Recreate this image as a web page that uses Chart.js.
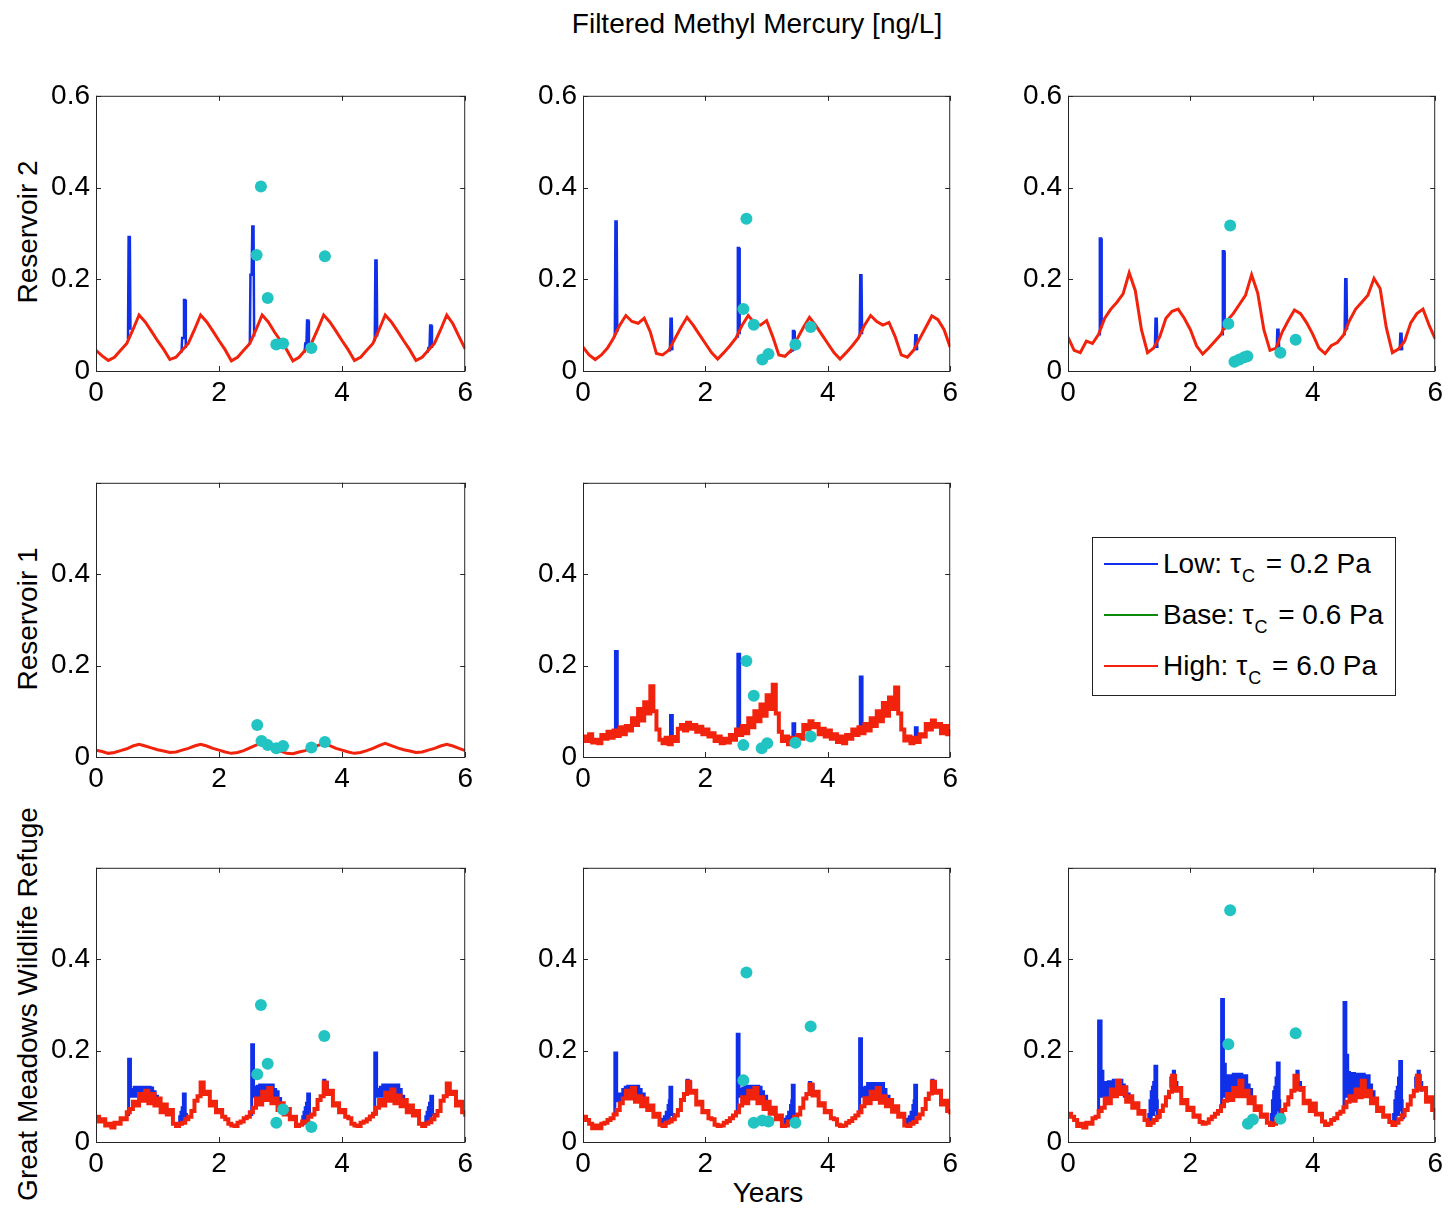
<!DOCTYPE html>
<html>
<head>
<meta charset="utf-8">
<script src="https://cdn.jsdelivr.net/npm/chart.js@4.4.1/dist/chart.umd.min.js"></script>
<style>
  body { margin: 0; background: #fff; font-family: "Liberation Sans", Arial, sans-serif; }
  #page { position: relative; width: 1450px; height: 1209px; overflow: hidden; }
  canvas { position: absolute; }
  .txt { position: absolute; font-size: 28px; color: #000; white-space: nowrap; }
  .rowlab { position: absolute; width: 500px; height: 34px; line-height: 34px; text-align: center;
            font-size: 28px; white-space: nowrap; transform: rotate(-90deg); transform-origin: 50% 50%; }
  #legend { position: absolute; left: 1092px; top: 537px; width: 302px; height: 157px; border: 1px solid #222; background: #fff; }
  .item { position: absolute; left: 0; height: 34px; line-height: 34px; font-size: 28px; white-space: nowrap; }
  .swatch { position: absolute; left: 11px; top: 16px; width: 54px; height: 2px; }
  .label { position: absolute; left: 70px; top: 0; }
  .label sub { font-size: 18px; vertical-align: -9px; line-height: 0; margin-left: 1px; margin-right: 3px; }
</style>
</head>
<body>
<div id="page">
  <div class="txt" id="title" style="left:0;width:1514px;top:8px;text-align:center;">Filtered Methyl Mercury [ng/L]</div>
  <div class="txt" style="left:668px;width:200px;top:1177px;text-align:center;">Years</div>
  <div id="legend"></div>
</div>
<script>
// time grids (years)
const years10 = [0,0.1,0.2,0.3,0.4,0.5,0.6,0.7,0.8,0.9,1,1.1,1.2,1.3,1.4,1.5,1.6,1.7,1.8,1.9,2,2.1,2.2,2.3,2.4,2.5,2.6,2.7,2.8,2.9,3,3.1,3.2,3.3,3.4,3.5,3.6,3.7,3.8,3.9,4,4.1,4.2,4.3,4.4,4.5,4.6,4.7,4.8,4.9,5,5.1,5.2,5.3,5.4,5.5,5.6,5.7,5.8,5.9,6];
const years05 = [0,0.05,0.1,0.15,0.2,0.25,0.3,0.35,0.4,0.45,0.5,0.55,0.6,0.65,0.7,0.75,0.8,0.85,0.9,0.95,1,1.05,1.1,1.15,1.2,1.25,1.3,1.35,1.4,1.45,1.5,1.55,1.6,1.65,1.7,1.75,1.8,1.85,1.9,1.95,2,2.05,2.1,2.15,2.2,2.25,2.3,2.35,2.4,2.45,2.5,2.55,2.6,2.65,2.7,2.75,2.8,2.85,2.9,2.95,3,3.05,3.1,3.15,3.2,3.25,3.3,3.35,3.4,3.45,3.5,3.55,3.6,3.65,3.7,3.75,3.8,3.85,3.9,3.95,4,4.05,4.1,4.15,4.2,4.25,4.3,4.35,4.4,4.45,4.5,4.55,4.6,4.65,4.7,4.75,4.8,4.85,4.9,4.95,5,5.05,5.1,5.15,5.2,5.25,5.3,5.35,5.4,5.45,5.5,5.55,5.6,5.65,5.7,5.75,5.8,5.85,5.9,5.95,6];

const xTicks = [0, 2, 4, 6];
const yTicks = [0, 0.2, 0.4, 0.6];
const rowNames = ['Reservoir 2', 'Reservoir 1', 'Great Meadows Wildlife Refuge'];
const seriesNames = ['Low', 'Base', 'High'];
const seriesTau = ['0.2', '0.6', '6.0'];

// ---- Reservoir 2 ----
const highR2a = [0.045,0.033,0.023,0.030,0.045,0.060,0.090,0.122,0.107,0.087,
  0.066,0.047,0.025,0.030,0.045,0.060,0.090,0.122,0.107,0.087,
  0.066,0.046,0.022,0.030,0.045,0.060,0.090,0.122,0.107,0.085,
  0.066,0.046,0.022,0.030,0.045,0.060,0.090,0.122,0.107,0.087,
  0.066,0.046,0.023,0.030,0.045,0.060,0.090,0.122,0.107,0.087,
  0.066,0.046,0.023,0.030,0.045,0.060,0.090,0.122,0.103,0.075,0.048];
const lowR2a = [
  [[0.52,0.07],[0.53,0.292],[0.55,0.292],[0.56,0.09]],
  [[1.39,0.04],[1.40,0.072],[1.42,0.072],[1.43,0.155],[1.45,0.155],[1.46,0.05]],
  [[2.50,0.06],[2.51,0.21],[2.53,0.21],[2.54,0.315],[2.56,0.315],[2.57,0.075]],
  [[3.39,0.04],[3.40,0.06],[3.42,0.06],[3.43,0.11],[3.45,0.11],[3.46,0.05]],
  [[4.53,0.065],[4.54,0.241],[4.56,0.241],[4.57,0.075]],
  [[5.39,0.04],[5.40,0.05],[5.42,0.05],[5.43,0.099],[5.45,0.099],[5.46,0.05]]
];
const obsR2a = [[2.61,0.253],[2.68,0.402],[2.79,0.159],[2.93,0.058],[3.04,0.060],[3.50,0.050],[3.72,0.250]];

const highR2b = [0.052,0.035,0.025,0.035,0.050,0.072,0.100,0.121,0.108,0.104,
  0.115,0.085,0.038,0.035,0.045,0.070,0.095,0.117,0.100,0.080,
  0.060,0.040,0.026,0.040,0.055,0.072,0.100,0.121,0.105,0.100,
  0.110,0.075,0.035,0.032,0.045,0.070,0.095,0.117,0.100,0.080,
  0.060,0.040,0.026,0.040,0.055,0.072,0.100,0.121,0.108,0.100,
  0.106,0.075,0.035,0.030,0.045,0.070,0.095,0.120,0.112,0.090,0.052];
const lowR2b = [
  [[0.52,0.075],[0.53,0.326],[0.55,0.326],[0.56,0.085]],
  [[1.38,0.045],[1.42,0.045],[1.43,0.114],[1.45,0.114],[1.46,0.045]],
  [[2.52,0.075],[2.53,0.268],[2.55,0.268],[2.56,0.08]],
  [[3.38,0.04],[3.42,0.045],[3.43,0.087],[3.45,0.087],[3.46,0.045]],
  [[4.52,0.075],[4.53,0.209],[4.55,0.209],[4.56,0.08]],
  [[5.42,0.045],[5.43,0.078],[5.45,0.078],[5.46,0.045]]
];
const obsR2b = [[2.62,0.135],[2.67,0.332],[2.79,0.101],[2.93,0.025],[3.03,0.037],[3.47,0.058],[3.72,0.096]];

const highR2c = [0.074,0.045,0.040,0.065,0.060,0.080,0.115,0.135,0.150,0.168,
  0.214,0.175,0.090,0.040,0.050,0.075,0.115,0.130,0.135,0.115,
  0.090,0.055,0.037,0.050,0.065,0.080,0.110,0.125,0.145,0.165,
  0.210,0.170,0.090,0.045,0.050,0.085,0.110,0.133,0.125,0.105,
  0.080,0.050,0.038,0.055,0.062,0.078,0.110,0.135,0.150,0.165,
  0.202,0.180,0.095,0.040,0.048,0.065,0.105,0.125,0.135,0.100,0.070];
const lowR2c = [
  [[0.51,0.08],[0.52,0.289],[0.54,0.289],[0.55,0.095]],
  [[1.42,0.05],[1.43,0.114],[1.45,0.114],[1.46,0.05]],
  [[2.52,0.08],[2.53,0.261],[2.55,0.261],[2.56,0.09]],
  [[3.41,0.045],[3.42,0.09],[3.44,0.09],[3.45,0.05]],
  [[4.52,0.078],[4.53,0.2],[4.55,0.2],[4.56,0.09]],
  [[5.42,0.045],[5.43,0.081],[5.45,0.081],[5.46,0.045]]
];
const obsR2c = [[2.62,0.103],[2.65,0.317],[2.72,0.020],[2.80,0.025],[2.88,0.030],[2.93,0.032],[3.47,0.040],[3.72,0.068]];

// ---- Reservoir 1 ----
const highR1a = [0.015,0.012,0.008,0.010,0.014,0.018,0.024,0.028,0.024,0.020,
  0.016,0.013,0.010,0.011,0.015,0.019,0.024,0.028,0.024,0.019,
  0.015,0.011,0.008,0.010,0.014,0.020,0.026,0.030,0.025,0.018,
  0.013,0.008,0.007,0.011,0.014,0.020,0.025,0.030,0.025,0.019,
  0.015,0.011,0.008,0.010,0.014,0.019,0.025,0.030,0.025,0.020,
  0.016,0.013,0.010,0.011,0.015,0.019,0.024,0.028,0.024,0.019,0.014];
const obsR1a = [[2.62,0.070],[2.69,0.035],[2.79,0.026],[2.93,0.019],[3.04,0.024],[3.50,0.021],[3.72,0.033]];

const highR1b = [0.045,0.035,0.050,0.032,0.038,0.030,0.048,0.040,0.055,0.042,
  0.058,0.046,0.065,0.050,0.068,0.058,0.085,0.070,0.105,0.080,
  0.120,0.095,0.155,0.100,0.060,0.038,0.030,0.042,0.028,0.044,
  0.035,0.062,0.070,0.058,0.075,0.062,0.070,0.055,0.066,0.050,
  0.060,0.045,0.052,0.035,0.045,0.030,0.040,0.032,0.048,0.038,
  0.060,0.048,0.068,0.052,0.085,0.065,0.100,0.078,0.115,0.090,
  0.135,0.105,0.158,0.095,0.055,0.035,0.045,0.028,0.042,0.032,
  0.048,0.040,0.070,0.060,0.078,0.065,0.072,0.050,0.062,0.045,
  0.058,0.040,0.050,0.033,0.045,0.030,0.048,0.040,0.060,0.048,
  0.065,0.052,0.072,0.058,0.085,0.068,0.100,0.078,0.118,0.090,
  0.130,0.105,0.152,0.095,0.060,0.036,0.045,0.030,0.042,0.033,
  0.050,0.045,0.072,0.060,0.080,0.066,0.072,0.052,0.068,0.050,0.060];
const lowR1b = [
  [[0.52,0.06],[0.53,0.231],[0.55,0.231],[0.56,0.06]],
  [[1.42,0.035],[1.43,0.091],[1.45,0.091],[1.46,0.035]],
  [[2.52,0.06],[2.53,0.225],[2.55,0.225],[2.56,0.06]],
  [[3.42,0.035],[3.43,0.073],[3.45,0.073],[3.46,0.035]],
  [[4.52,0.06],[4.53,0.175],[4.55,0.175],[4.56,0.06]],
  [[5.42,0.035],[5.43,0.064],[5.45,0.064],[5.46,0.035]]
];
const obsR1b = [[2.62,0.026],[2.67,0.210],[2.79,0.134],[2.92,0.019],[3.01,0.030],[3.47,0.031],[3.72,0.045]];

// ---- Great Meadows Wildlife Refuge ----
const highGMa = [0.055,0.045,0.050,0.036,0.040,0.032,0.042,0.040,0.052,0.050,
  0.065,0.072,0.088,0.080,0.105,0.090,0.112,0.085,0.105,0.080,
  0.095,0.065,0.082,0.060,0.070,0.040,0.035,0.040,0.042,0.050,
  0.055,0.068,0.090,0.100,0.130,0.105,0.110,0.080,0.088,0.065,
  0.070,0.055,0.050,0.040,0.036,0.035,0.042,0.045,0.052,0.055,
  0.065,0.075,0.095,0.082,0.110,0.092,0.118,0.085,0.095,0.070,
  0.085,0.060,0.072,0.050,0.055,0.035,0.038,0.045,0.042,0.055,
  0.060,0.072,0.092,0.100,0.130,0.105,0.112,0.080,0.085,0.065,
  0.070,0.055,0.052,0.040,0.036,0.035,0.042,0.045,0.050,0.056,
  0.062,0.075,0.092,0.080,0.108,0.090,0.115,0.085,0.102,0.078,
  0.092,0.065,0.080,0.058,0.068,0.040,0.035,0.040,0.043,0.050,
  0.058,0.068,0.090,0.100,0.128,0.105,0.110,0.080,0.088,0.065,0.055];
const lowGMa = [
  [[0.52,0.06],[0.53,0.181],[0.55,0.181],[0.56,0.10],[0.58,0.115],[0.60,0.10],[0.62,0.12],[0.64,0.10],[0.66,0.12],[0.68,0.10],[0.70,0.12],[0.72,0.10],[0.74,0.12],[0.76,0.105],[0.78,0.12],[0.80,0.105],[0.82,0.12],[0.84,0.10],[0.86,0.12],[0.88,0.10],[0.90,0.118],[0.92,0.095],[0.94,0.11],[0.96,0.09],[0.98,0.10],[1.00,0.085]],
  [[1.34,0.04],[1.36,0.055],[1.37,0.04],[1.38,0.065],[1.39,0.045],[1.40,0.075],[1.41,0.05],[1.42,0.105],[1.44,0.105],[1.45,0.06],[1.47,0.05]],
  [[2.51,0.06],[2.53,0.213],[2.55,0.213],[2.56,0.10],[2.58,0.12],[2.60,0.10],[2.62,0.122],[2.64,0.10],[2.66,0.125],[2.68,0.10],[2.70,0.125],[2.72,0.10],[2.74,0.125],[2.76,0.105],[2.78,0.125],[2.80,0.10],[2.82,0.125],[2.84,0.095],[2.86,0.125],[2.88,0.095],[2.90,0.115],[2.92,0.09],[2.94,0.11],[2.96,0.085],[2.98,0.095],[3.00,0.08]],
  [[3.34,0.04],[3.36,0.055],[3.37,0.04],[3.38,0.065],[3.39,0.045],[3.40,0.075],[3.41,0.05],[3.42,0.085],[3.43,0.05],[3.44,0.105],[3.46,0.105],[3.47,0.06],[3.50,0.055]],
  [[3.68,0.115],[3.70,0.135],[3.72,0.12],[3.74,0.13],[3.76,0.11]],
  [[4.52,0.06],[4.53,0.195],[4.55,0.195],[4.56,0.10],[4.58,0.115],[4.60,0.10],[4.62,0.12],[4.64,0.10],[4.66,0.125],[4.68,0.10],[4.70,0.125],[4.72,0.105],[4.74,0.125],[4.76,0.105],[4.78,0.125],[4.80,0.105],[4.82,0.125],[4.84,0.10],[4.86,0.125],[4.88,0.10],[4.90,0.125],[4.92,0.095],[4.94,0.115],[4.96,0.09],[4.98,0.10],[5.00,0.085]],
  [[5.34,0.04],[5.36,0.055],[5.37,0.04],[5.38,0.065],[5.39,0.045],[5.40,0.075],[5.41,0.05],[5.42,0.085],[5.43,0.05],[5.44,0.10],[5.46,0.10],[5.47,0.06],[5.50,0.055]]
];
const obsGMa = [[2.62,0.148],[2.68,0.300],[2.79,0.171],[2.93,0.042],[3.04,0.071],[3.50,0.033],[3.71,0.232]];

const highGMb = [0.055,0.048,0.040,0.030,0.036,0.030,0.040,0.042,0.048,0.052,
  0.060,0.070,0.085,0.095,0.112,0.095,0.118,0.088,0.100,0.078,
  0.095,0.070,0.080,0.055,0.062,0.038,0.035,0.042,0.045,0.050,
  0.058,0.070,0.092,0.105,0.132,0.108,0.112,0.082,0.088,0.065,
  0.068,0.052,0.050,0.038,0.035,0.036,0.042,0.046,0.052,0.058,
  0.065,0.080,0.098,0.085,0.112,0.095,0.118,0.085,0.098,0.072,
  0.088,0.062,0.075,0.050,0.058,0.035,0.036,0.045,0.042,0.055,
  0.060,0.075,0.095,0.105,0.126,0.102,0.110,0.080,0.085,0.065,
  0.068,0.052,0.050,0.038,0.035,0.036,0.042,0.046,0.052,0.058,
  0.065,0.078,0.096,0.085,0.110,0.094,0.118,0.086,0.100,0.078,
  0.092,0.066,0.078,0.055,0.062,0.036,0.035,0.040,0.044,0.052,
  0.060,0.072,0.094,0.106,0.132,0.108,0.112,0.082,0.090,0.068,0.060];
const lowGMb = [
  [[0.51,0.06],[0.52,0.195],[0.54,0.195],[0.55,0.09],[0.57,0.105],[0.59,0.09],[0.61,0.105],[0.63,0.095],[0.65,0.115],[0.67,0.095],[0.69,0.12],[0.71,0.10],[0.73,0.122],[0.75,0.10],[0.77,0.122],[0.79,0.10],[0.81,0.122],[0.83,0.10],[0.85,0.122],[0.87,0.10],[0.89,0.122],[0.91,0.095],[0.93,0.115],[0.95,0.09],[0.97,0.105],[1.00,0.085]],
  [[1.28,0.04],[1.30,0.05],[1.31,0.04],[1.33,0.055],[1.34,0.04],[1.36,0.065],[1.37,0.045],[1.39,0.08],[1.40,0.05],[1.41,0.09],[1.42,0.12],[1.44,0.12],[1.45,0.06],[1.48,0.05]],
  [[1.68,0.115],[1.70,0.135],[1.72,0.12],[1.74,0.13],[1.76,0.11]],
  [[2.51,0.065],[2.52,0.236],[2.54,0.236],[2.55,0.10],[2.57,0.115],[2.59,0.10],[2.61,0.118],[2.63,0.10],[2.65,0.122],[2.67,0.10],[2.69,0.122],[2.71,0.10],[2.73,0.122],[2.75,0.10],[2.77,0.122],[2.79,0.10],[2.81,0.122],[2.83,0.095],[2.85,0.122],[2.87,0.095],[2.89,0.12],[2.91,0.09],[2.93,0.11],[2.95,0.085],[2.97,0.10],[3.00,0.08]],
  [[3.28,0.04],[3.30,0.05],[3.31,0.04],[3.33,0.055],[3.34,0.04],[3.36,0.065],[3.37,0.045],[3.39,0.08],[3.40,0.05],[3.41,0.09],[3.42,0.124],[3.44,0.124],[3.45,0.06],[3.48,0.05]],
  [[3.68,0.115],[3.70,0.13],[3.72,0.115],[3.74,0.125],[3.76,0.105]],
  [[4.51,0.065],[4.52,0.226],[4.54,0.226],[4.55,0.10],[4.57,0.118],[4.59,0.10],[4.61,0.12],[4.63,0.10],[4.65,0.128],[4.67,0.10],[4.69,0.128],[4.71,0.105],[4.73,0.128],[4.75,0.105],[4.77,0.128],[4.79,0.105],[4.81,0.128],[4.83,0.10],[4.85,0.128],[4.87,0.10],[4.89,0.128],[4.91,0.095],[4.93,0.115],[4.95,0.09],[4.97,0.10],[5.00,0.085]],
  [[5.28,0.04],[5.30,0.05],[5.31,0.04],[5.33,0.055],[5.34,0.04],[5.36,0.065],[5.37,0.045],[5.39,0.08],[5.40,0.05],[5.41,0.09],[5.42,0.124],[5.44,0.124],[5.45,0.06],[5.48,0.05]],
  [[5.68,0.115],[5.70,0.135],[5.72,0.12],[5.74,0.13],[5.76,0.11]]
];
const obsGMb = [[2.62,0.135],[2.67,0.371],[2.79,0.042],[2.93,0.047],[3.03,0.045],[3.47,0.042],[3.72,0.253]];

const highGMc = [0.062,0.055,0.048,0.035,0.040,0.032,0.042,0.040,0.052,0.055,
  0.068,0.075,0.095,0.085,0.115,0.100,0.134,0.105,0.120,0.088,
  0.100,0.075,0.085,0.062,0.068,0.048,0.037,0.042,0.048,0.055,
  0.068,0.080,0.098,0.110,0.145,0.112,0.118,0.085,0.092,0.070,
  0.075,0.055,0.058,0.044,0.040,0.042,0.050,0.055,0.062,0.068,
  0.078,0.090,0.105,0.092,0.118,0.100,0.134,0.100,0.112,0.085,
  0.098,0.070,0.078,0.055,0.060,0.042,0.037,0.040,0.050,0.056,
  0.070,0.082,0.098,0.112,0.145,0.115,0.118,0.085,0.090,0.068,
  0.084,0.060,0.062,0.045,0.037,0.040,0.048,0.052,0.062,0.066,
  0.076,0.088,0.100,0.090,0.115,0.098,0.134,0.100,0.112,0.085,
  0.095,0.068,0.075,0.055,0.058,0.044,0.037,0.042,0.050,0.058,
  0.070,0.082,0.100,0.112,0.145,0.115,0.118,0.088,0.098,0.070,0.048];
const lowGMc = [
  [[0.49,0.07],[0.50,0.265],[0.53,0.265],[0.54,0.10],[0.55,0.155],[0.57,0.10],[0.58,0.13],[0.60,0.10],[0.62,0.13],[0.64,0.10],[0.66,0.132],[0.68,0.105],[0.70,0.132],[0.72,0.11],[0.74,0.135],[0.76,0.11],[0.78,0.135],[0.80,0.115],[0.82,0.135],[0.84,0.11],[0.86,0.135],[0.88,0.105],[0.90,0.125],[0.92,0.10],[0.94,0.12],[0.96,0.095],[0.98,0.105],[1.00,0.09]],
  [[1.30,0.04],[1.32,0.06],[1.33,0.045],[1.34,0.09],[1.35,0.05],[1.36,0.11],[1.37,0.06],[1.38,0.12],[1.39,0.06],[1.40,0.13],[1.41,0.07],[1.42,0.166],[1.44,0.166],[1.45,0.09],[1.46,0.06],[1.48,0.05]],
  [[1.66,0.12],[1.68,0.14],[1.70,0.12],[1.72,0.155],[1.74,0.12],[1.76,0.13],[1.78,0.11]],
  [[2.50,0.08],[2.51,0.312],[2.53,0.312],[2.54,0.10],[2.55,0.17],[2.57,0.10],[2.58,0.145],[2.60,0.10],[2.62,0.145],[2.64,0.105],[2.66,0.145],[2.68,0.11],[2.70,0.148],[2.72,0.11],[2.74,0.148],[2.76,0.115],[2.78,0.148],[2.80,0.12],[2.82,0.148],[2.84,0.11],[2.86,0.145],[2.88,0.105],[2.90,0.145],[2.92,0.10],[2.94,0.125],[2.96,0.095],[2.98,0.115],[3.00,0.09],[3.02,0.10]],
  [[3.30,0.04],[3.32,0.06],[3.33,0.045],[3.34,0.09],[3.35,0.05],[3.36,0.11],[3.37,0.06],[3.38,0.12],[3.39,0.06],[3.40,0.14],[3.41,0.07],[3.42,0.173],[3.44,0.173],[3.45,0.09],[3.46,0.06],[3.48,0.05]],
  [[3.68,0.12],[3.70,0.14],[3.72,0.12],[3.74,0.155],[3.76,0.12],[3.78,0.13],[3.80,0.11]],
  [[4.50,0.08],[4.51,0.305],[4.53,0.305],[4.54,0.10],[4.55,0.19],[4.57,0.10],[4.58,0.152],[4.60,0.10],[4.62,0.15],[4.64,0.105],[4.66,0.15],[4.68,0.11],[4.70,0.148],[4.72,0.11],[4.74,0.148],[4.76,0.115],[4.78,0.148],[4.80,0.12],[4.82,0.148],[4.84,0.11],[4.86,0.145],[4.88,0.105],[4.90,0.145],[4.92,0.10],[4.94,0.125],[4.96,0.095],[4.98,0.11],[5.00,0.09]],
  [[5.30,0.04],[5.32,0.06],[5.33,0.045],[5.34,0.09],[5.35,0.05],[5.36,0.11],[5.37,0.06],[5.38,0.12],[5.39,0.06],[5.40,0.14],[5.41,0.07],[5.42,0.176],[5.44,0.176],[5.45,0.09],[5.46,0.06],[5.48,0.05]],
  [[5.66,0.12],[5.68,0.14],[5.70,0.12],[5.72,0.155],[5.74,0.12],[5.76,0.13],[5.78,0.11]]
];
const obsGMc = [[2.62,0.214],[2.65,0.507],[2.94,0.040],[3.02,0.049],[3.47,0.051],[3.72,0.238]];

const BLUE = '#0f2fe8', GREEN = '#0a8a0a', RED = '#f2230c', CYAN = '#22c3c3', AXIS = '#262626';

// layout of the panel grid (pixels)
const colLeft = [96, 583, 1068], colWidth = [370, 368, 368];
const rowTop = [93, 480, 865], rowHeight = [278, 277, 277];

const panels = [
  { row: 0, col: 0, t: years10, high: highR2a, low: lowR2a, obs: obsR2a, noisy: false },
  { row: 0, col: 1, t: years10, high: highR2b, low: lowR2b, obs: obsR2b, noisy: false },
  { row: 0, col: 2, t: years10, high: highR2c, low: lowR2c, obs: obsR2c, noisy: false },
  { row: 1, col: 0, t: years10, high: highR1a, low: [], obs: obsR1a, noisy: false },
  { row: 1, col: 1, t: years05, high: highR1b, low: lowR1b, obs: obsR1b, noisy: true },
  { row: 2, col: 0, t: years05, high: highGMa, low: lowGMa, obs: obsGMa, noisy: true },
  { row: 2, col: 1, t: years05, high: highGMb, low: lowGMb, obs: obsGMb, noisy: true },
  { row: 2, col: 2, t: years05, high: highGMc, low: lowGMc, obs: obsGMc, noisy: true }
];

// box around the axes with inward ticks on all four sides
const boxTicks = {
  id: 'boxTicks',
  afterDraw(chart) {
    const { ctx, chartArea: a, scales: { x, y } } = chart;
    ctx.save();
    ctx.strokeStyle = AXIS;
    ctx.lineWidth = 1;
    ctx.strokeRect(a.left + 0.5, a.top + 0.5, a.right - a.left - 1, a.bottom - a.top);
    ctx.beginPath();
    xTicks.forEach(v => {
      const px = Math.round(x.getPixelForValue(v)) + 0.5;
      ctx.moveTo(px, a.bottom); ctx.lineTo(px, a.bottom - 5);
      ctx.moveTo(px, a.top); ctx.lineTo(px, a.top + 5);
    });
    yTicks.forEach(v => {
      const py = Math.round(y.getPixelForValue(v)) + 0.5;
      ctx.moveTo(a.left, py); ctx.lineTo(a.left + 5, py);
      ctx.moveTo(a.right, py); ctx.lineTo(a.right - 5, py);
    });
    ctx.stroke();
    ctx.restore();
  }
};

Chart.defaults.font.family = '"Liberation Sans", Arial, sans-serif';
Chart.defaults.font.size = 28;
Chart.defaults.color = '#000';

const page = document.getElementById('page');

// row labels, rotated, centred on each row of panels
rowNames.forEach((name, r) => {
  const d = document.createElement('div');
  d.className = 'rowlab';
  d.textContent = name;
  d.style.left = (28 - 250) + 'px';
  d.style.top = (rowTop[r] + rowHeight[r] / 2 - 17) + 'px';
  page.appendChild(d);
});

panels.forEach(p => {
  const yw = p.col === 0 ? 96 : 80;
  const padTop = 20, xh = 50, padRight = 12;
  const canvas = document.createElement('canvas');
  const w = yw + colWidth[p.col] + padRight;
  const h = padTop + rowHeight[p.row] + xh;
  canvas.width = w; canvas.height = h;
  canvas.style.left = (colLeft[p.col] - yw) + 'px';
  canvas.style.top = (rowTop[p.row] - padTop) + 'px';
  canvas.style.width = w + 'px'; canvas.style.height = h + 'px';
  page.appendChild(canvas);

  const lowData = [];
  p.low.forEach(seg => {
    seg.forEach(pt => lowData.push({ x: pt[0], y: pt[1] }));
    lowData.push({ x: seg[seg.length - 1][0], y: null });
  });

  new Chart(canvas.getContext('2d'), {
    type: 'line',
    data: {
      datasets: [
        { label: 'Observed', data: p.obs.map(o => ({ x: o[0], y: o[1] })), showLine: false,
          pointRadius: 6, pointBackgroundColor: CYAN, pointBorderWidth: 0, pointStyle: 'circle' },
        { label: seriesNames[2], data: p.high.map((v, i) => ({ x: p.t[i], y: v })),
          borderColor: RED, borderWidth: p.noisy ? 4 : 3, pointRadius: 0, tension: 0,
          stepped: p.noisy },
        { label: seriesNames[0], data: lowData, borderColor: BLUE, borderWidth: p.noisy ? 3 : 2.5,
          pointRadius: 0, tension: 0, spanGaps: false, stepped: p.noisy }
      ]
    },
    options: {
      responsive: false,
      animation: false,
      events: [],
      layout: { padding: { top: padTop, right: padRight, left: 0, bottom: 0 } },
      plugins: { legend: { display: false }, tooltip: { enabled: false } },
      scales: {
        x: {
          type: 'linear', min: 0, max: 6,
          grid: { display: false, drawTicks: false, tickLength: 0 }, border: { display: false },
          afterBuildTicks: s => { s.ticks = xTicks.map(v => ({ value: v })); },
          ticks: { padding: 5, font: { size: 28 } },
          afterFit: s => { s.height = xh; }
        },
        y: {
          type: 'linear', min: 0, max: 0.6,
          grid: { display: false, drawTicks: false, tickLength: 0 }, border: { display: false },
          afterBuildTicks: s => { s.ticks = yTicks.map(v => ({ value: v })); },
          ticks: { padding: 6, font: { size: 28 },
            callback: v => (p.row > 0 && v > 0.5) ? '' : String(v) },
          afterFit: s => { s.width = yw; }
        }
      }
    },
    plugins: [boxTicks]
  });
});

// legend with subscripted tau
const legend = document.getElementById('legend');
[BLUE, GREEN, RED].forEach((c, i) => {
  const item = document.createElement('div');
  item.className = 'item';
  item.style.top = (9 + i * 51) + 'px';
  item.style.width = '300px';
  item.innerHTML = '<div class="swatch" style="background:' + c + '"></div>' +
    '<div class="label">' + seriesNames[i] + ': \u03c4<sub>C</sub> = ' + seriesTau[i] + ' Pa</div>';
  legend.appendChild(item);
});
</script>
</body>
</html>
